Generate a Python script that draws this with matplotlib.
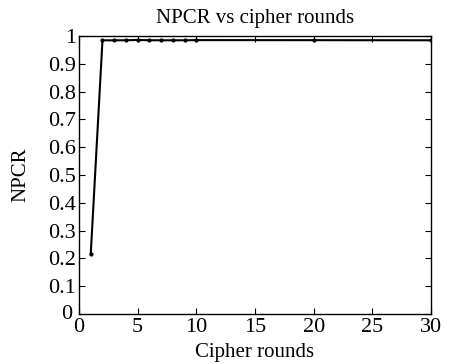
import matplotlib
matplotlib.use("Agg")
import matplotlib.pyplot as plt
from matplotlib.transforms import ScaledTranslation

# --- data ---
rounds = [1, 2, 3, 4, 5, 6, 7, 8, 9, 10, 20, 30]
npcr = [0.2155, 0.9845, 0.9845, 0.9847, 0.9858, 0.9847, 0.9846, 0.9846, 0.9846, 0.9852, 0.9850, 0.9846]

plt.rcParams['font.family'] = ['Liberation Serif', 'DejaVu Serif']

fig = plt.figure(figsize=(4.52, 3.64), dpi=100, facecolor='white')
ax = fig.add_axes([0.1748, 0.1374, 0.7787, 0.7637])

ax.plot(rounds, npcr, color='black', linewidth=1.5, marker='.', markersize=4)

ax.set_xlim(0, 30)
ax.set_ylim(0, 1)
ax.set_xticks(range(0, 31, 5))
ax.set_yticks([i / 10 for i in range(11)])
ax.set_yticklabels(['0', '0.1', '0.2', '0.3', '0.4', '0.5', '0.6', '0.7', '0.8', '0.9', '1'])
ax.tick_params(direction='in', top=True, right=True, labelsize=16, length=4, width=0.8)
ax.tick_params(axis='y', pad=2)
ax.tick_params(axis='x', pad=3)
for s in ax.spines.values():
    s.set_linewidth(1.0)

# nudge the y "0" so it doesn't sit on top of the x "0"
lbl0 = ax.get_yticklabels()[0]
lbl0.set_transform(lbl0.get_transform() + ScaledTranslation(-4 / 100, 2 / 100, fig.dpi_scale_trans))

ax.set_title("NPCR vs cipher rounds", fontsize=15, pad=9)
ax.set_xlabel("Cipher rounds", fontsize=15)
ax.set_ylabel("NPCR", fontsize=15)
# label positions as in the source figure
ax.xaxis.set_label_coords(0.5, -0.105)
ax.yaxis.set_label_coords(-0.137, 0.5)

plt.savefig("out.png", dpi=100)
